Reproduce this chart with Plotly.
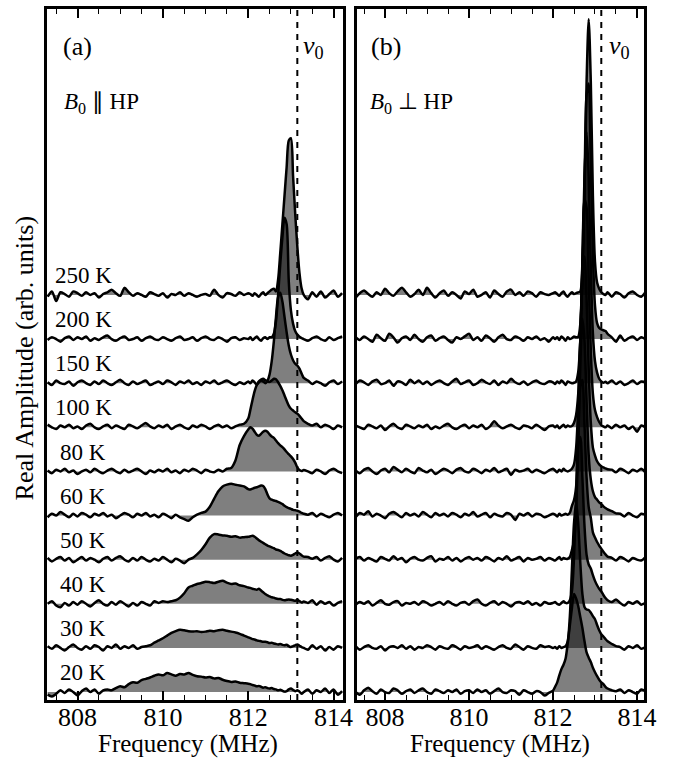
import plotly.graph_objects as go

# ---------------- data ----------------
FREQ = [807.3, 807.4, 807.5, 807.6, 807.7, 807.8, 807.9, 808.0, 808.1, 808.2,
        808.3, 808.4, 808.5, 808.6, 808.7, 808.8, 808.9, 809.0, 809.1, 809.2,
        809.3, 809.4, 809.5, 809.6, 809.7, 809.8, 809.9, 810.0, 810.1, 810.2,
        810.3, 810.4, 810.5, 810.6, 810.7, 810.8, 810.9, 811.0, 811.1, 811.2,
        811.3, 811.4, 811.5, 811.6, 811.7, 811.8, 811.9, 812.0,
        812.05, 812.1, 812.15, 812.2, 812.25, 812.3, 812.35, 812.4, 812.45, 812.5,
        812.55, 812.6, 812.65, 812.7, 812.75, 812.8, 812.85, 812.9, 812.95, 813.0,
        813.05, 813.1, 813.15, 813.2, 813.25, 813.3,
        813.4, 813.5, 813.6, 813.7, 813.8, 813.9, 814.0, 814.1, 814.2]

TEMPS = ["250 K", "200 K", "150 K", "100 K", "80 K", "60 K", "50 K", "40 K", "30 K", "20 K"]

# Panel (a): B0 || HP
A_250K = [-4, 8, -14, 6, 2, -4, 8, 4, -2, 6, 0, 4, -6, 2, 6, 12, 4, -2, 16, 6,
          -2, 4, 0, -4, 6, 2, -2, 4, -6, 2, 0, 6, -2, 4, 0, -4, 0, 2, -2, 12,
          0, -6, 4, 2, -2, 6, 0, 4,
          2, -2, 4, 0, -4, 2, 6, 0, 4, 8, 12, 14, 8, 35, 95, 160, 225, 290, 350, 355,
          270, 185, 110, 50, 15, 0,
          -10, 6, -4, 8, -6, 2, 10, -4, 4]
A_200K = [-2, 4, 0, -6, 2, 6, -2, 4, 0, 6, -4, 2, -2, 4, 8, 0, -4, 2, 6, -2,
          0, 4, -4, 2, 6, 0, -2, 4, 0, -4, 2, 6, -2, 0, 4, -4, 2, 6, 0, -2,
          4, 0, -6, 2, 4, -2, 2, 0,
          4, -2, 2, 6, 0, -4, 2, 4, 0, 4, 4, 12, 40, 100, 170, 230, 275, 260, 130, 65,
          35, 18, 10, 5, 2, 0,
          -4, 2, 6, 0, -4, 4, -2, 2, 6]
A_150K = [2, -4, 6, 0, -2, 4, -6, 2, 6, 0, -4, 4, -2, 6, 0, -4, 2, 8, 0, -4,
          4, -2, 2, 6, -4, 0, 4, -2, 6, 2, -4, 4, 0, 6, -2, 2, -4, 4, 0, 6,
          -2, 2, 6, 0, -4, 2, -2, 4,
          0, 6, 2, -4, 2, 6, 4, 0, 5, 20, 50, 95, 150, 195, 205, 185, 150, 115, 85, 65,
          52, 44, 40, 33, 22, 12,
          6, -2, 4, 0, -6, 2, 6, -2, 4]
A_100K = [6, 0, -4, 4, 0, 6, -2, 2, -4, 4, 8, 0, -4, 2, 6, -2, 4, 0, -4, 6,
          2, -2, 4, 10, 2, -2, 4, 0, 6, -4, 2, 6, 0, -4, 4, 0, 6, 2, -4, 2,
          6, 0, 4, -2, 2, 6, 8, 20,
          40, 62, 82, 96, 104, 108, 110, 107, 104, 103, 106, 110, 109, 102, 94, 84, 72, 60, 49, 42,
          38, 34, 31, 26, 20, 14,
          8, 4, 8, 0, 6, 2, -4, 4, 0]
A_80K = [2, -4, 4, 0, 6, -2, 2, -6, 0, 4, -2, 6, 0, -4, 2, 6, 0, -4, 4, -2,
         2, 6, 0, -6, 2, -2, 4, 0, 6, -2, 2, -4, 4, 0, 6, 2, -4, 4, 0, -2,
         4, 0, 6, 8, 25, 60, 80, 95,
         100, 97, 90, 83, 81, 85, 90, 92, 90, 84, 79, 76, 70, 64, 59, 55, 50, 44, 39, 34,
         28, 20, 9, 3, 1, 3,
         0, -4, 4, 0, -6, 2, 6, 0, -4]
A_60K = [-4, 4, 0, 8, 2, -4, 4, -2, 6, 2, -4, 4, 0, 6, -2, 2, -6, 0, 6, 2,
         -4, 4, 0, 6, -2, 2, -4, 4, 0, -6, 2, -4, -8, -12, -4, 2, 6, 9, 20, 38,
         55, 66, 70, 72, 70, 68, 66, 60,
         59, 61, 63, 64, 66, 68, 67, 60, 48, 39, 36, 34, 33, 31, 29, 26, 22, 19, 17, 15,
         13, 12, 11, 9, 6, 4,
         2, 6, -2, 4, 0, -4, 2, 6, 0]
A_50K = [4, -4, 2, 6, -2, 4, -6, 0, 6, -2, 4, 0, -6, 2, 6, -2, 4, 8, 0, -4,
         4, -2, 6, 0, -4, 2, -2, 6, 0, -6, 2, -2, -8, 0, 4, 12, 22, 35, 50, 58,
         57, 55, 54, 52, 53, 50, 51, 52,
         53, 54, 52, 48, 44, 41, 38, 35, 32, 30, 28, 26, 23, 22, 20, 17, 14, 12, 10, 9,
         11, 14, 16, 14, 10, 7,
         6, 2, 6, -2, 4, 8, 0, -4, 4]
A_40K = [0, 6, -4, -8, 2, -4, 4, -2, 6, 0, -6, 2, 8, 0, -4, 4, -2, 6, 0, -6,
         2, -4, 4, 0, -4, 6, 2, 6, 4, 6, 8, 14, 24, 37, 41, 45, 47, 50, 49, 47,
         50, 52, 48, 45, 46, 42, 40, 37,
         36, 34, 33, 32, 34, 30, 26, 22, 19, 17, 15, 14, 12, 11, 11, 9, 8, 9, 10, 9,
         8, 7, 9, 6, 3, 5,
         2, 8, -2, 6, 0, 4, -4, 2, 6]
A_30K = [4, -2, 6, 0, -6, 2, 8, 0, -4, 4, -2, 6, 2, -6, 4, 0, 8, -2, 4, 0,
         6, -2, 2, 4, 6, 12, 17, 22, 28, 34, 38, 41, 40, 38, 37, 38, 36, 37, 39, 38,
         40, 41, 39, 37, 35, 32, 28, 24,
         22, 20, 19, 17, 16, 15, 14, 14, 13, 11, 12, 10, 9, 8, 9, 7, 6, 7, 4, 2,
         4, 6, 8, 5, 2, 0,
         -4, 6, -2, 4, -6, 2, -4, 4, 0]
A_20K = [-6, -10, -4, 4, -2, 6, 0, -8, 2, 8, 0, 6, -4, 4, 6, 4, 9, 13, 11, 18,
         22, 21, 27, 30, 33, 37, 40, 38, 43, 40, 37, 41, 40, 43, 39, 36, 35, 33, 34, 31,
         32, 28, 25, 23, 24, 21, 20, 19,
         18, 16, 15, 13, 14, 12, 10, 11, 9, 8, 9, 7, 6, 4, 5, 3, 1, 2, 6, 8,
         5, 2, 4, 1, -4, 0,
         6, -4, 4, 0, 8, -2, 6, -6, 2]

# Panel (b): B0 perpendicular HP
B_250K = [-6, 4, 10, 2, -4, 6, 0, 14, 4, -2, 8, 16, 6, -4, 2, 12, 0, 16, 4, -6,
          4, 10, -2, 6, 0, -8, 8, 2, 12, -4, 0, 6, -6, 10, 2, -4, 8, 12, 0, 6,
          -2, 8, 4, -4, 6, 2, 0, 4,
          6, 2, -2, 4, 8, 0, -4, 2, 6, 2, 4, 6, 8, 65, 225, 484, 625, 484, 225, 75,
          28, 14, 6, 2, 0, 6,
          -4, 6, 2, -6, 4, 8, 0, -4, 6]
B_200K = [4, -2, 6, 0, -6, 10, 2, -4, 12, 4, -8, 2, 6, -2, 10, 0, -6, 4, 8, -4,
          2, 6, -2, -8, 4, 0, 6, 12, -2, 4, -4, 8, 2, -6, 4, 10, 0, -2, 6, 2,
          -4, 4, 0, 6, -2, 2, -6, 4,
          0, 4, -2, 6, 2, -4, 4, 0, 2, 6, 4, 5, 34, 134, 340, 554, 579, 395, 192, 76,
          36, 25, 22, 20, 18, 12,
          4, -6, 8, -4, 2, 6, -2, 4, 0]
B_150K = [-2, 6, 2, -4, 4, 8, -2, 0, 6, -6, 4, 2, -4, 8, 0, 6, -2, 4, -4, 2,
          6, 0, -4, 4, 10, -2, 2, 6, -4, 0, 8, 2, -2, 6, -4, 4, 0, 10, 2, -2,
          4, -4, 2, 6, 0, -2, 4, 2,
          -2, 4, 0, 6, 2, -4, 4, 2, 0, 1, 4, 25, 98, 261, 469, 570, 469, 265, 113, 50,
          24, 10, 4, 1, 3, 0,
          6, -2, 4, -4, 0, 6, -2, 4, 2]
B_100K = [4, 0, -4, 6, 2, -2, 4, -6, 2, 8, 0, -4, 6, 2, -2, 4, 0, 6, -4, 2,
          -2, 4, 8, 0, -4, 2, 6, -2, 4, 0, 6, -4, 2, 14, 4, -2, 2, 6, 0, -4,
          4, 2, -2, 6, 0, -6, 2, 4,
          0, 4, -2, 2, 6, 0, 4, 2, 3, 10, 28, 75, 196, 378, 516, 498, 340, 175, 76, 39,
          23, 12, 5, 2, 0, 4,
          -2, 6, 0, 4, -4, 2, -10, 4, 0]
B_80K = [2, -4, 4, 8, 0, -6, 2, 6, -2, 10, 4, -2, 6, 0, -4, 8, 2, -2, 4, -6,
         0, 6, 2, -4, 4, 8, 0, -2, 6, 2, -4, 4, 0, 8, -2, 2, 6, -8, 4, 0,
         2, 6, -2, 4, 0, -4, 2, 6,
         2, -2, 4, 0, 6, 2, 0, 2, 6, 16, 53, 146, 297, 444, 487, 392, 232, 111, 54, 36,
         23, 16, 12, 9, 7, 5,
         4, -2, 6, 2, -4, 4, 0, 6, -2]
B_60K = [-4, 6, 2, 10, -2, 4, 0, -6, 4, 8, 2, -4, 6, 0, 4, -2, 8, 2, -4, 6,
         0, 4, -2, 6, 2, -4, 4, 0, 8, -2, 2, 6, -4, 4, 0, -2, 6, 2, -10, 4,
         0, 6, -2, 4, 2, -4, 0, 4,
         2, -2, 4, 0, 2, 4, 2, 6, 22, 35, 65, 175, 340, 446, 397, 259, 137, 82, 55, 42,
         36, 30, 26, 21, 17, 14,
         10, 5, 4, -2, 6, 0, -4, 4, 2]
B_50K = [2, 6, -2, 4, 0, -4, 6, 2, -2, 8, 0, 4, -6, 2, 6, 0, -2, 4, 8, -4,
         2, 0, 6, -2, 4, -4, 2, 6, 0, 4, -2, 6, 2, -4, 4, 0, 8, -2, 2, 6,
         -4, 4, 0, 2, 6, -2, 4, 0,
         -2, 2, 6, 0, 4, 2, 2, 6, 22, 42, 112, 255, 391, 407, 306, 186, 119, 95, 62, 50,
         40, 32, 25, 18, 12, 7,
         4, -2, 6, 2, -4, 4, 0, -2, 6]
B_40K = [-2, 4, 0, 6, -4, 2, 8, 0, -2, 4, 6, -4, 2, 0, 4, -2, 6, 2, -4, 0,
         4, -2, 6, 0, -4, 2, 4, -2, 6, 10, 0, -4, 2, 6, -2, 4, 0, -6, 2, 4,
         0, 6, -2, 2, -4, 4, 0, 2,
         4, 0, -2, 2, 6, 2, 2, 8, 28, 104, 237, 363, 378, 286, 177, 111, 89, 80, 65, 52,
         42, 34, 28, 20, 13, 8,
         4, 10, 2, -4, 4, 0, 6, -2, 2]
B_30K = [4, -4, 2, 6, 0, -2, 4, -6, 2, 4, 0, 6, -2, 4, -4, 2, 0, 6, 2, -4,
         4, 0, -2, 6, 2, -4, 4, 0, 2, 6, -2, 4, 0, -4, 2, 6, 0, -2, 8, 2,
         -4, 4, 0, -2, 6, 2, 4, 0,
         2, -2, 4, 0, 2, 4, 15, 70, 178, 283, 330, 283, 193, 122, 93, 87, 86, 80, 72, 65,
         52, 40, 31, 26, 20, 15,
         9, 4, 2, -4, 4, 0, 6, -2, 2]
B_20K = [0, -6, 4, 10, 2, -4, 6, 0, -2, 8, 4, -4, 2, 6, -2, 4, 8, 0, -4, 6,
         2, -2, 4, 0, 6, -4, 2, 4, -2, 6, 0, 4, -4, 2, 8, 0, -2, 4, 2, -6,
         4, 0, -4, 2, 0, -8, -2, 3,
         12, 22, 38, 52, 62, 76, 110, 150, 190, 222, 212, 195, 170, 145, 115, 90, 78, 68, 55, 45,
         36, 28, 22, 18, 12, 8,
         4, 2, 6, -2, 4, 0, -4, 6, 2]

PANEL_A = [A_250K, A_200K, A_150K, A_100K, A_80K, A_60K, A_50K, A_40K, A_30K, A_20K]
PANEL_B = [B_250K, B_200K, B_150K, B_100K, B_80K, B_60K, B_50K, B_40K, B_30K, B_20K]
NU0 = 813.15
XTICKS = [808, 810, 812, 814]

# ---------------- style ----------------
STEP = 100
FONT = "Liberation Serif"
FILL = "rgba(0,0,0,0.5)"
LINE = dict(color="black", width=2.5, shape="spline", smoothing=0.8)

fig = go.Figure()
n = len(TEMPS)
for axis_id, panel in (("", PANEL_A), ("2", PANEL_B)):
    for i, vals in enumerate(panel):
        off = (n - 1 - i) * STEP
        fig.add_trace(go.Scatter(x=FREQ, y=[off] * len(FREQ), mode="lines",
                                 line=dict(width=0, color="rgba(0,0,0,0)"),
                                 xaxis="x" + axis_id, yaxis="y" + axis_id,
                                 hoverinfo="skip", showlegend=False))
        fig.add_trace(go.Scatter(x=FREQ, y=[v + off for v in vals], mode="lines",
                                 line=LINE, fill="tonexty", fillcolor=FILL,
                                 xaxis="x" + axis_id, yaxis="y" + axis_id,
                                 name=TEMPS[i], showlegend=False))

xcommon = dict(tickvals=XTICKS, ticks="inside", ticklen=9, tickwidth=1.5,
               tickcolor="black", mirror="ticks", showline=True, linewidth=3,
               linecolor="black", showgrid=False, zeroline=False,
               ticklabelstandoff=-8,
               tickfont=dict(family=FONT, size=26, color="black"),
               minor=dict(dtick=0.5, tick0=808, ticks="inside", ticklen=5,
                          tickwidth=1.2, tickcolor="black"))
ycommon = dict(range=[-18, 1548], showticklabels=False, ticks="", showline=True,
               mirror=True, linewidth=3, linecolor="black", showgrid=False,
               zeroline=False)

fig.update_layout(
    width=684, height=767,
    margin=dict(l=47, r=40, t=6, b=67),
    paper_bgcolor="white", plot_bgcolor="white",
    showlegend=False,
    xaxis=dict(domain=[0, 0.4958], range=[807.285, 814.22], anchor="y", **xcommon),
    xaxis2=dict(domain=[0.5193, 1], range=[807.333, 814.167], anchor="y2", **xcommon),
    yaxis=dict(domain=[0, 1], anchor="x", **ycommon),
    yaxis2=dict(domain=[0, 1], anchor="x2", **ycommon),
)

for xr, yr in (("x", "y"), ("x2", "y2")):
    fig.add_shape(type="line", xref=xr, yref=yr + " domain", x0=NU0, x1=NU0, y0=0, y1=1,
                  line=dict(color="black", width=2, dash="6px,6px"), layer="below")

ann = []
for i, t in enumerate(TEMPS):
    off = (n - 1 - i) * STEP
    ann.append(dict(x=808.14, y=off + 44, xref="x", yref="y", text=t, showarrow=False,
                    xanchor="center", yanchor="middle",
                    font=dict(family=FONT, size=23, color="black")))

big = dict(family=FONT, size=26, color="black")
mid = dict(family=FONT, size=23, color="black")
ann += [
    dict(x=807.99, y=1464, xref="x", yref="y", text="(a)", showarrow=False,
         xanchor="center", yanchor="middle", font=big),
    dict(x=808.02, y=1464, xref="x2", yref="y2", text="(b)", showarrow=False,
         xanchor="center", yanchor="middle", font=big),
    dict(x=813.24, y=1462, xref="x", yref="y", text="<i>ν</i><sub>0</sub>", showarrow=False,
         xanchor="left", yanchor="middle", font=big),
    dict(x=813.29, y=1462, xref="x2", yref="y2", text="<i>ν</i><sub>0</sub>", showarrow=False,
         xanchor="left", yanchor="middle", font=big),
    dict(x=807.64, y=1335, xref="x", yref="y", text="<i>B</i><sub>0</sub> ∥ HP",
         showarrow=False, xanchor="left", yanchor="middle", font=mid),
    dict(x=807.6, y=1335, xref="x2", yref="y2", text="<i>B</i><sub>0</sub> ⊥ HP",
         showarrow=False, xanchor="left", yanchor="middle", font=mid),
    dict(x=0.236, y=-0.0634, xref="paper", yref="paper", text="Frequency (MHz)",
         showarrow=False, xanchor="center", yanchor="middle",
         font=dict(family=FONT, size=25, color="black")),
    dict(x=0.759, y=-0.0634, xref="paper", yref="paper", text="Frequency (MHz)",
         showarrow=False, xanchor="center", yanchor="middle",
         font=dict(family=FONT, size=25, color="black")),
    dict(x=-0.0369, y=0.4957, xref="paper", yref="paper", text="Real Amplitude (arb. units)",
         showarrow=False, textangle=-90, xanchor="center", yanchor="middle",
         font=dict(family=FONT, size=26, color="black")),
]
fig.update_layout(annotations=ann)

fig.write_html("out.html")
